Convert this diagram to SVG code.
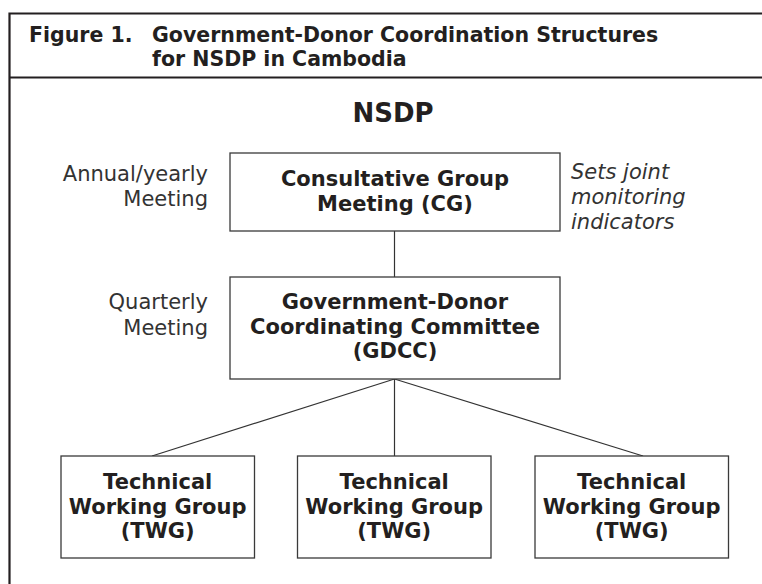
<svg xmlns="http://www.w3.org/2000/svg" width="762" height="584" viewBox="0 0 762 584">
<style>
  text { font-family: "DejaVu Sans", Verdana, sans-serif; fill: #231f20; }
  .title { font-size: 20.5px; font-weight: bold; }
  .head { font-size: 26px; font-weight: bold; text-anchor: middle; }
  .box { fill: #ffffff; stroke: #3a3a3a; stroke-width: 1.3; }
  .bt { font-size: 21px; font-weight: bold; text-anchor: middle; }
  .lbl { font-size: 21px; text-anchor: end; fill: #333333; }
  .note { font-size: 21px; font-style: italic; fill: #333333; }
  .frame { fill: none; stroke: #231f20; stroke-width: 2.2; }
  .conn { stroke: #333333; stroke-width: 1.2; fill: none; }
</style>
<rect width="762" height="584" fill="#ffffff"/>
<g id="frame">
  <path class="frame" d="M9.5 590 V13.5 H770"/>
  <line class="frame" x1="9.5" y1="77.5" x2="770" y2="77.5"/>
  <text class="title" x="29" y="42">Figure 1.</text>
  <text class="title" x="152" y="42">Government-Donor Coordination Structures</text>
  <text class="title" x="152" y="66">for NSDP in Cambodia</text>
  <text class="head" x="393" y="122">NSDP</text>
</g>
<g id="connectors">
  <line class="conn" x1="394.5" y1="231" x2="394.5" y2="277"/>
  <line class="conn" x1="394.5" y1="379" x2="152" y2="456"/>
  <line class="conn" x1="394.5" y1="379" x2="394.5" y2="456"/>
  <line class="conn" x1="394.5" y1="379" x2="643" y2="456"/>
</g>
<g id="labels">
  <text class="lbl" x="208" y="181">Annual/yearly</text>
  <text class="lbl" x="208" y="206">Meeting</text>
  <text class="lbl" x="208" y="309">Quarterly</text>
  <text class="lbl" x="208" y="335">Meeting</text>
  <text class="note" x="571" y="179">Sets joint</text>
  <text class="note" x="571" y="204">monitoring</text>
  <text class="note" x="571" y="229">indicators</text>
</g>
<g id="cg">
  <rect class="box" x="230" y="153" width="330" height="78"/>
  <text class="bt" x="395" y="186">Consultative Group</text>
  <text class="bt" x="395" y="211">Meeting (CG)</text>
</g>
<g id="gdcc">
  <rect class="box" x="230" y="277" width="330" height="102"/>
  <text class="bt" x="395" y="309">Government-Donor</text>
  <text class="bt" x="395" y="334">Coordinating Committee</text>
  <text class="bt" x="395" y="358">(GDCC)</text>
</g>
<g id="twg1">
  <rect class="box" x="61" y="456" width="193.5" height="102"/>
  <text class="bt" x="157.7" y="489">Technical</text>
  <text class="bt" x="157.7" y="514">Working Group</text>
  <text class="bt" x="157.7" y="538">(TWG)</text>
</g>
<g id="twg2">
  <rect class="box" x="297.5" y="456" width="193.5" height="102"/>
  <text class="bt" x="394.2" y="489">Technical</text>
  <text class="bt" x="394.2" y="514">Working Group</text>
  <text class="bt" x="394.2" y="538">(TWG)</text>
</g>
<g id="twg3">
  <rect class="box" x="535" y="456" width="193.5" height="102"/>
  <text class="bt" x="631.7" y="489">Technical</text>
  <text class="bt" x="631.7" y="514">Working Group</text>
  <text class="bt" x="631.7" y="538">(TWG)</text>
</g>
</svg>
